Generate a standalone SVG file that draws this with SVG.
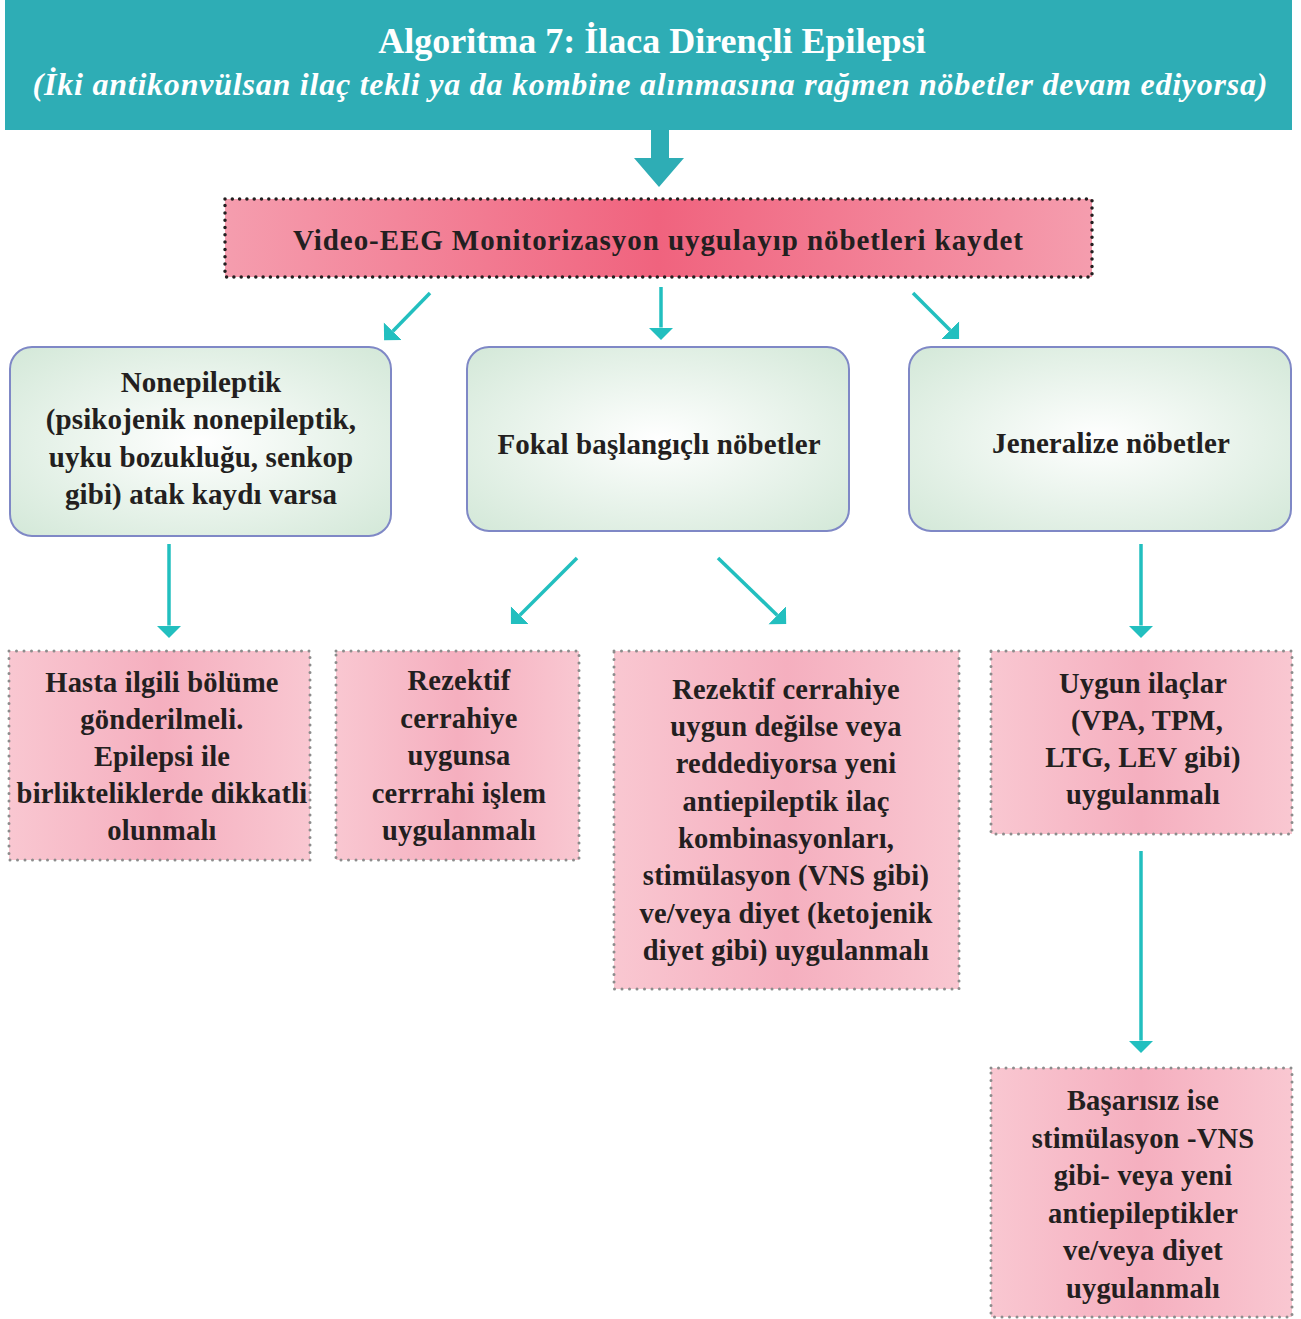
<svg xmlns="http://www.w3.org/2000/svg" width="1301" height="1319" viewBox="0 0 1301 1319">
<style>
.t{font-family:"Liberation Serif","Times New Roman",serif;font-weight:bold;fill:#231F20;text-anchor:middle}
.g text{font-size:29px;letter-spacing:0.1px}
.p text{font-size:28.5px;letter-spacing:0.2px}
.gbox{fill:url(#gg);stroke:#7F88C6;stroke-width:2}
.pbox{fill:url(#pg);stroke:#8C8C8C;stroke-width:3;stroke-dasharray:0 7.5;stroke-linecap:round}
.ar{stroke:#22BFBF;stroke-width:3.5;fill:none;marker-end:url(#ah)}
</style>
<defs>
<linearGradient id="pg" x1="0" y1="0" x2="1" y2="0">
<stop offset="0" stop-color="#F9C7D1"/><stop offset="0.5" stop-color="#F5AFBF"/><stop offset="1" stop-color="#F9C7D1"/>
</linearGradient>
<linearGradient id="vg" x1="0" y1="0" x2="1" y2="0">
<stop offset="0" stop-color="#F59DAE"/><stop offset="0.5" stop-color="#F0637E"/><stop offset="1" stop-color="#F59DAE"/>
</linearGradient>
<radialGradient id="gg" cx="0.5" cy="0.5" r="0.7">
<stop offset="0" stop-color="#FFFFFF"/><stop offset="1" stop-color="#D3E8D8"/>
</radialGradient>
<marker id="ah" markerUnits="userSpaceOnUse" viewBox="0 -13 13 26" markerWidth="13" markerHeight="26" refX="0" refY="0" orient="auto">
<path d="M0,-12.5 L12.5,0 L0,12.5 Z" fill="#22BFBF"/>
</marker>
</defs>

<g id="header">
<rect x="5" y="0" width="1287" height="130" fill="#2EADB5"/>
<text class="t" x="652" y="53" style="font-size:36px;fill:#FFFFFF">Algoritma 7: İlaca Dirençli Epilepsi</text>
<text class="t" x="650" y="95" style="font-size:32px;font-style:italic;fill:#FFFFFF" textLength="1235" lengthAdjust="spacing">(İki antikonvülsan ilaç tekli ya da kombine alınmasına rağmen nöbetler devam ediyorsa)</text>
</g>

<g id="connectors">
<path d="M651,130 H669 V158 H684 L659,187 L634,158 H651 Z" fill="#2EADB5"/>
<line class="ar" x1="430" y1="293" x2="392.8" y2="331.2"/>
<line class="ar" x1="661" y1="287" x2="661" y2="327.5"/>
<line class="ar" x1="913" y1="293" x2="950.2" y2="330.2"/>
<line class="ar" x1="169" y1="544" x2="169" y2="625.5"/>
<line class="ar" x1="577" y1="558" x2="519.8" y2="615.2"/>
<line class="ar" x1="718" y1="558" x2="777.2" y2="615.2"/>
<line class="ar" x1="1141" y1="544" x2="1141" y2="625.5"/>
<line class="ar" x1="1141" y1="851" x2="1141" y2="1040.5"/>
</g>

<g id="video-eeg">
<rect x="225" y="199" width="867" height="78" fill="url(#vg)" stroke="#231F20" stroke-width="3.5" stroke-dasharray="0 7.3" stroke-linecap="round"/>
<text class="t" x="658" y="250" style="font-size:29px" textLength="730" lengthAdjust="spacing">Video-EEG Monitorizasyon uygulayıp nöbetleri kaydet</text>
</g>

<g id="nonepileptik" class="g">
<rect class="gbox" x="10" y="347" width="381" height="189" rx="22"/>
<text class="t" x="201" y="392">Nonepileptik</text>
<text class="t" x="201" y="429">(psikojenik nonepileptik,</text>
<text class="t" x="201" y="467">uyku bozukluğu, senkop</text>
<text class="t" x="201" y="504">gibi) atak kaydı varsa</text>
</g>

<g id="fokal" class="g">
<rect class="gbox" x="467" y="347" width="382" height="184" rx="22"/>
<text class="t" x="659" y="454">Fokal başlangıçlı nöbetler</text>
</g>

<g id="jeneralize" class="g">
<rect class="gbox" x="909" y="347" width="382" height="184" rx="22"/>
<text class="t" x="1111" y="453">Jeneralize nöbetler</text>
</g>

<g id="hasta" class="p">
<rect class="pbox" x="9" y="651" width="301" height="209"/>
<text class="t" x="162" y="692">Hasta ilgili bölüme</text>
<text class="t" x="162" y="729">gönderilmeli.</text>
<text class="t" x="162" y="766">Epilepsi ile</text>
<text class="t" x="162" y="803">birlikteliklerde dikkatli</text>
<text class="t" x="162" y="840">olunmalı</text>
</g>

<g id="rezektif-uygun" class="p">
<rect class="pbox" x="336" y="651" width="243" height="209"/>
<text class="t" x="459" y="690">Rezektif</text>
<text class="t" x="459" y="728">cerrahiye</text>
<text class="t" x="459" y="765">uygunsa</text>
<text class="t" x="459" y="803">cerrrahi işlem</text>
<text class="t" x="459" y="840">uygulanmalı</text>
</g>

<g id="rezektif-degil" class="p">
<rect class="pbox" x="614" y="651" width="345" height="338"/>
<text class="t" x="786" y="699">Rezektif cerrahiye</text>
<text class="t" x="786" y="736">uygun değilse veya</text>
<text class="t" x="786" y="773">reddediyorsa yeni</text>
<text class="t" x="786" y="811">antiepileptik ilaç</text>
<text class="t" x="786" y="848">kombinasyonları,</text>
<text class="t" x="786" y="885">stimülasyon (VNS gibi)</text>
<text class="t" x="786" y="923">ve/veya diyet (ketojenik</text>
<text class="t" x="786" y="960">diyet gibi) uygulanmalı</text>
</g>

<g id="uygun-ilaclar" class="p">
<rect class="pbox" x="991" y="651" width="301" height="183"/>
<text class="t" x="1143" y="693">Uygun ilaçlar</text>
<text class="t" x="1147" y="730">(VPA, TPM,</text>
<text class="t" x="1143" y="767">LTG, LEV gibi)</text>
<text class="t" x="1143" y="804">uygulanmalı</text>
</g>

<g id="basarisiz" class="p">
<rect class="pbox" x="991" y="1068" width="301" height="249"/>
<text class="t" x="1143" y="1110">Başarısız ise</text>
<text class="t" x="1143" y="1148">stimülasyon -VNS</text>
<text class="t" x="1143" y="1185">gibi- veya yeni</text>
<text class="t" x="1143" y="1223">antiepileptikler</text>
<text class="t" x="1143" y="1260">ve/veya diyet</text>
<text class="t" x="1143" y="1298">uygulanmalı</text>
</g>
</svg>
